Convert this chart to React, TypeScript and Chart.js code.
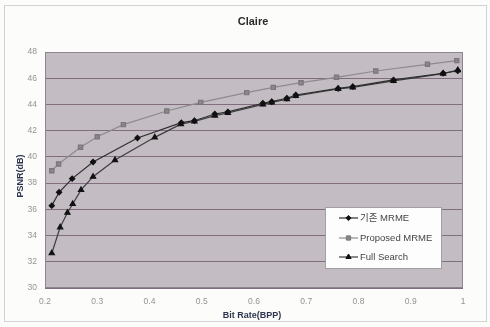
import React, { useEffect, useRef } from "react";
import { Chart, registerables } from "chart.js";
import { drawPoint } from "chart.js/helpers";

Chart.register(...registerables);

const chartTitle = "Claire";
const xTitle = "Bit Rate(BPP)";
const yTitle = "PSNR(dB)";
const seriesNames = ["기존 MRME", "Proposed MRME", "Full Search"];

const conventionalX = [0.213, 0.227, 0.252, 0.292, 0.377, 0.461, 0.486, 0.525, 0.55, 0.617, 0.634, 0.663, 0.68, 0.761, 0.789, 0.867, 0.962, 0.99];
const conventionalY = [36.28, 37.3, 38.34, 39.61, 41.44, 42.61, 42.76, 43.27, 43.43, 44.09, 44.21, 44.47, 44.72, 45.22, 45.36, 45.87, 46.38, 46.57];

const proposedX = [0.213, 0.226, 0.268, 0.3, 0.35, 0.433, 0.498, 0.586, 0.637, 0.69, 0.758, 0.833, 0.932, 0.988];
const proposedY = [38.95, 39.46, 40.73, 41.54, 42.46, 43.5, 44.16, 44.9, 45.3, 45.66, 46.07, 46.55, 47.06, 47.34];

const fullX = [0.213, 0.229, 0.243, 0.253, 0.269, 0.292, 0.334, 0.41, 0.46, 0.486, 0.525, 0.55, 0.617, 0.634, 0.663, 0.68, 0.761, 0.789, 0.867, 0.962, 0.99];
const fullY = [32.65, 34.63, 35.74, 36.41, 37.48, 38.49, 39.76, 41.49, 42.5, 42.7, 43.15, 43.35, 44.0, 44.15, 44.4, 44.65, 45.18, 45.3, 45.8, 46.35, 46.62];

const xMin = 0.2;
const xMax = 1;
const xStep = 0.1;
const yMin = 30;
const yMax = 48;
const yStep = 2;

const FONT = "'Liberation Sans', 'Noto Sans CJK KR', sans-serif";

const toPoints = (xs: number[], ys: number[]) => xs.map((x, i) => ({ x, y: ys[i] }));

const decorPlugin = {
  id: "decor",
  beforeDraw(chart: any) {
    const { ctx, chartArea: a } = chart;
    ctx.save();
    ctx.fillStyle = "#fcfcfa";
    ctx.fillRect(0, 0, chart.width, chart.height);
    ctx.strokeStyle = "#d2d2d2";
    ctx.lineWidth = 1;
    ctx.strokeRect(4.5, 5.5, 482, 316);
    ctx.fillStyle = "#c3bcc2";
    ctx.fillRect(a.left, a.top, a.right - a.left, a.bottom - a.top);
    ctx.restore();
  },
  afterDatasetsDraw(chart: any) {
    const { ctx, chartArea: a } = chart;
    ctx.save();
    ctx.strokeStyle = "#8d8590";
    ctx.lineWidth = 1;
    ctx.strokeRect(a.left + 0.5, a.top + 0.5, a.right - a.left - 1, a.bottom - a.top - 1);
    ctx.fillStyle = "#2a2a2a";
    ctx.textAlign = "center";
    ctx.textBaseline = "middle";
    ctx.font = `bold 11px ${FONT}`;
    ctx.fillText(chartTitle, 253, 22);
    ctx.font = `bold 9px ${FONT}`;
    ctx.fillStyle = "#2f3550";
    ctx.fillText(xTitle, 252, 316);
    ctx.save();
    ctx.translate(21, 176);
    ctx.rotate(-Math.PI / 2);
    ctx.fillText(yTitle, 0, 0);
    ctx.restore();
    const lx = 325, ly = 207, lw = 116, lh = 61;
    ctx.fillStyle = "#fdfdfd";
    ctx.fillRect(lx, ly, lw, lh);
    ctx.strokeStyle = "#a0a0a0";
    ctx.strokeRect(lx + 0.5, ly + 0.5, lw, lh);
    const rows = [218, 238, 257];
    chart.data.datasets.forEach((ds: any, i: number) => {
      const y = rows[i];
      ctx.strokeStyle = ds.borderColor;
      ctx.lineWidth = ds.borderWidth;
      ctx.beginPath();
      ctx.moveTo(339, y);
      ctx.lineTo(358, y);
      ctx.stroke();
      ctx.fillStyle = ds.pointBackgroundColor;
      ctx.strokeStyle = ds.pointBorderColor;
      ctx.lineWidth = 1;
      drawPoint(ctx, { pointStyle: ds.pointStyle, radius: ds.pointRadius, rotation: 0, borderWidth: 1 }, 348.5, y);
      ctx.fillStyle = "#444444";
      ctx.textAlign = "left";
      ctx.font = `9.5px ${FONT}`;
      ctx.fillText(ds.label, 360, y + 0.5);
    });
    ctx.restore();
  },
};

export default function App() {
  const ref = useRef<HTMLCanvasElement | null>(null);
  useEffect(() => {
    document.body.style.margin = "0";
    const canvas = ref.current;
    if (!canvas) return;
    const chart = new Chart(canvas, {
      type: "line",
      data: {
        datasets: [
          {
            label: seriesNames[0],
            data: toPoints(conventionalX, conventionalY),
            borderColor: "#2e2e2e",
            borderWidth: 1.2,
            pointStyle: "rectRot",
            pointRadius: 2.6,
            pointBackgroundColor: "#111111",
            pointBorderColor: "#111111",
            tension: 0,
          },
          {
            label: seriesNames[1],
            data: toPoints(proposedX, proposedY),
            borderColor: "#8e8a8e",
            borderWidth: 1.2,
            pointStyle: "rect",
            pointRadius: 3,
            pointBackgroundColor: "#8a8689",
            pointBorderColor: "#7a767a",
            tension: 0,
          },
          {
            label: seriesNames[2],
            data: toPoints(fullX, fullY),
            borderColor: "#3e3e3e",
            borderWidth: 1.2,
            pointStyle: "triangle",
            pointRadius: 3,
            pointBackgroundColor: "#111111",
            pointBorderColor: "#111111",
            tension: 0,
          },
        ],
      } as any,
      options: {
        animation: false,
        responsive: false,
        maintainAspectRatio: false,
        devicePixelRatio: 1,
        layout: { padding: { top: 52, right: 27, left: 0, bottom: 0 } },
        plugins: {
          legend: { display: false },
          title: { display: false },
          tooltip: { enabled: false },
        },
        scales: {
          x: {
            type: "linear",
            min: xMin,
            max: xMax,
            afterFit: (s: any) => {
              s.height = 39;
            },
            ticks: {
              stepSize: xStep,
              padding: 9,
              color: "#949494",
              font: { size: 8.5, family: FONT },
              callback: (v: any) => String(Math.round(Number(v) * 10) / 10),
            },
            grid: { display: false, drawTicks: false },
            border: { display: false },
          },
          y: {
            type: "linear",
            min: yMin,
            max: yMax,
            afterFit: (s: any) => {
              s.width = 45;
            },
            ticks: {
              stepSize: yStep,
              padding: 8,
              color: "#949494",
              font: { size: 8.5, family: FONT },
            },
            grid: { color: "#806e7e", lineWidth: 1, drawTicks: false },
            border: { display: false },
          },
        },
      } as any,
      plugins: [decorPlugin],
    });
    return () => chart.destroy();
  }, []);
  return (
    <div style={{ width: 490, height: 327 }}>
      <canvas ref={ref} width={490} height={327} style={{ display: "block" }} />
    </div>
  );
}
